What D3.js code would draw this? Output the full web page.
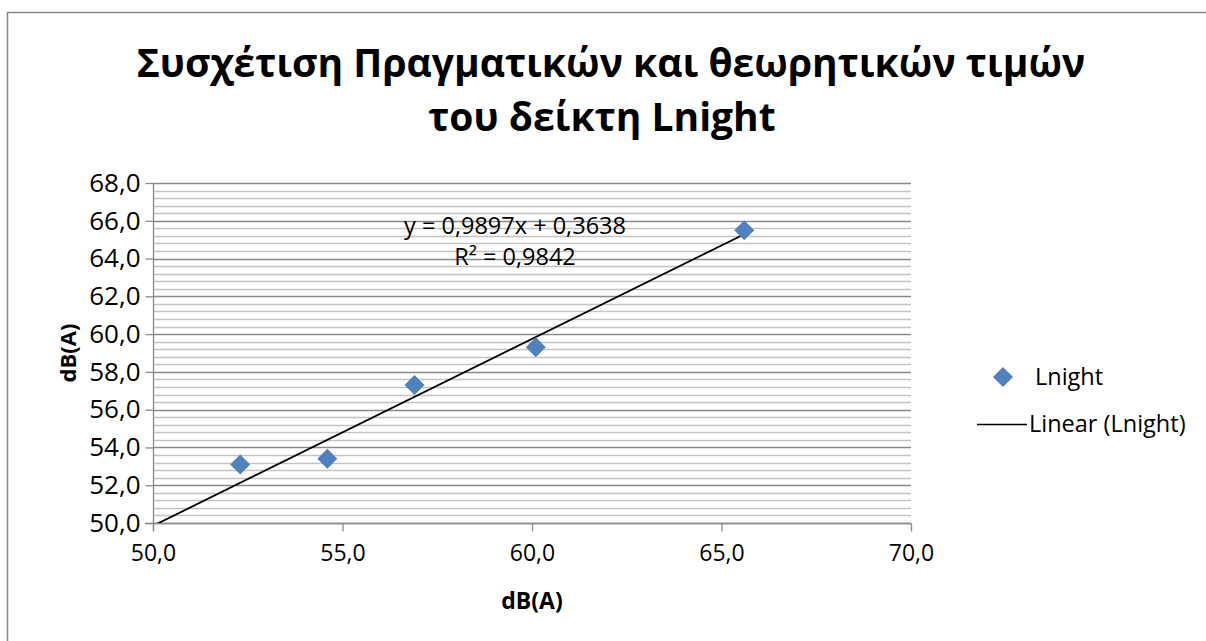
<!DOCTYPE html>
<html>
<head>
<meta charset="utf-8">
<script src="https://cdn.jsdelivr.net/npm/d3@7"></script>
<style>
  html, body { margin: 0; padding: 0; background: #fff; }
  svg { display: block; }
  text { font-family: "Open Sans", "Noto Sans", sans-serif; fill: #000; }
</style>
</head>
<body>
<svg id="chart" width="1206" height="641"></svg>
<script>
// ---- Data ----
const seriesName = "Lnight";
const xValues = [52.3, 54.6, 56.9, 60.1, 65.6];
const yValues = [53.1, 53.4, 57.3, 59.3, 65.5];
const trendCoef = [0.9897, 0.3638]; // slope, intercept
const rSquared = 0.9842;
const xTicks = [50, 55, 60, 65, 70];
const yTicks = [50, 52, 54, 56, 58, 60, 62, 64, 66, 68];
const titleLines = ["Συσχέτιση Πραγματικών και θεωρητικών τιμών", "του δείκτη Lnight"];
const xAxisTitle = "dB(A)";
const yAxisTitle = "dB(A)";
const trendLabel = "Linear (Lnight)";

(function () {
const fmt = v => v.toFixed(1).replace(".", ",");
const fmt4 = v => v.toFixed(4).replace(".", ",");

const svg = d3.select("#chart");
svg.append("rect").attr("width", 1206).attr("height", 641).attr("fill", "#fff");
// chart border
svg.append("rect").attr("x", 7.5).attr("y", 12.5).attr("width", 1220).attr("height", 660)
  .attr("fill", "none").attr("stroke", "#868686").attr("stroke-width", 1.5);

const pLeft = 153, pRight = 911, pTop = 183, pBottom = 523;
const x = d3.scaleLinear().domain([50, 70]).range([pLeft, pRight]);
const y = d3.scaleLinear().domain([50, 68]).range([pBottom, pTop]);

// minor gridlines
const minor = d3.range(50, 68.001, 0.4).filter(v => Math.abs(v / 2 - Math.round(v / 2)) > 0.01);
svg.append("g").selectAll("line").data(minor).join("line")
  .attr("x1", pLeft).attr("x2", pRight)
  .attr("y1", d => Math.round(y(d)) + 0.5).attr("y2", d => Math.round(y(d)) + 0.5)
  .attr("stroke", "#c4c4c4").attr("stroke-width", 1.3);
// major gridlines
svg.append("g").selectAll("line").data(yTicks).join("line")
  .attr("x1", pLeft).attr("x2", pRight)
  .attr("y1", d => Math.round(y(d)) + 0.5).attr("y2", d => Math.round(y(d)) + 0.5)
  .attr("stroke", "#8a8a8a").attr("stroke-width", 1.3);

// Y axis
const yAxis = svg.append("g").attr("transform", `translate(${pLeft + 0.5},0)`)
  .call(d3.axisLeft(y).tickValues(yTicks).tickFormat(fmt).tickSize(8).tickPadding(5));
yAxis.select(".domain").attr("stroke", "#8a8a8a").attr("stroke-width", 1.3)
  .attr("d", `M0,${pTop}V${pBottom + 8}`);
yAxis.selectAll(".tick line").attr("stroke", "#8a8a8a").attr("stroke-width", 1.3);
yAxis.selectAll(".tick text").attr("font-size", 26).attr("font-family", "Open Sans").attr("fill", "#000");

// X axis
const xAxis = svg.append("g").attr("transform", `translate(0,${pBottom + 0.5})`)
  .call(d3.axisBottom(x).tickValues(xTicks).tickFormat(fmt).tickSize(8).tickPadding(13));
xAxis.select(".domain").attr("stroke", "#8a8a8a").attr("stroke-width", 1.3)
  .attr("d", `M${pLeft - 8},0H${pRight}`);
xAxis.selectAll(".tick line").attr("stroke", "#8a8a8a").attr("stroke-width", 1.3);
xAxis.selectAll(".tick text").attr("font-size", 23).attr("font-family", "Open Sans").attr("fill", "#000");

// clip
svg.append("clipPath").attr("id", "plotclip").append("rect")
  .attr("x", pLeft).attr("y", pTop).attr("width", pRight - pLeft).attr("height", pBottom - pTop);

// trendline
const xStart = 50, xEnd = d3.max(xValues);
const trendPts = [xStart, xEnd].map(v => [v, trendCoef[0] * v + trendCoef[1]]);
svg.append("path").attr("clip-path", "url(#plotclip)")
  .attr("d", d3.line().x(d => x(d[0])).y(d => y(d[1]))(trendPts))
  .attr("stroke", "#000").attr("stroke-width", 1.8).attr("fill", "none");

// points
const diamond = d3.symbol().type(d3.symbolSquare).size(200);
svg.append("g").selectAll("path").data(xValues.map((v, i) => [v, yValues[i]])).join("path")
  .attr("d", diamond)
  .attr("transform", d => `translate(${x(d[0])},${y(d[1])}) rotate(45)`)
  .attr("fill", "#4f81bd");

// equation
svg.append("text").attr("x", 515).attr("y", 234).attr("text-anchor", "middle")
  .attr("font-size", 23.5).text(`y = ${fmt4(trendCoef[0])}x + ${fmt4(trendCoef[1])}`);
svg.append("text").attr("x", 515).attr("y", 265).attr("text-anchor", "middle")
  .attr("font-size", 23.5).text(`R² = ${fmt4(rSquared)}`);

// title
function fitText(sel, target) {
  const w = sel.node().getComputedTextLength();
  const fs = parseFloat(sel.attr("font-size"));
  sel.attr("font-size", fs * target / w);
}
const t1 = svg.append("text").attr("x", 611).attr("y", 77).attr("text-anchor", "middle")
  .attr("font-weight", "bold").attr("font-size", 36).text(titleLines[0]);
fitText(t1, 949);
svg.append("text").attr("x", 602).attr("y", 131).attr("text-anchor", "middle")
  .attr("font-weight", "bold").attr("font-size", t1.attr("font-size")).text(titleLines[1]);

// axis titles
svg.append("text").attr("x", (pLeft + pRight) / 2).attr("y", 609).attr("text-anchor", "middle")
  .attr("font-weight", "bold").attr("font-size", 23).text(xAxisTitle);
svg.append("text").attr("transform", `translate(67,${(pTop + pBottom) / 2}) rotate(-90)`)
  .attr("text-anchor", "middle").attr("dominant-baseline", "central")
  .attr("font-weight", "bold").attr("font-size", 22).text(yAxisTitle);

// legend
svg.append("path").attr("d", diamond).attr("transform", "translate(1003,377) rotate(45)").attr("fill", "#4f81bd");
svg.append("text").attr("x", 1035).attr("y", 385).attr("font-size", 23.5).text(seriesName);
svg.append("line").attr("x1", 977).attr("x2", 1027).attr("y1", 424.5).attr("y2", 424.5)
  .attr("stroke", "#000").attr("stroke-width", 1.5);
svg.append("text").attr("x", 1029).attr("y", 432).attr("font-size", 23.5).text(trendLabel);
})();
</script>
</body>
</html>
